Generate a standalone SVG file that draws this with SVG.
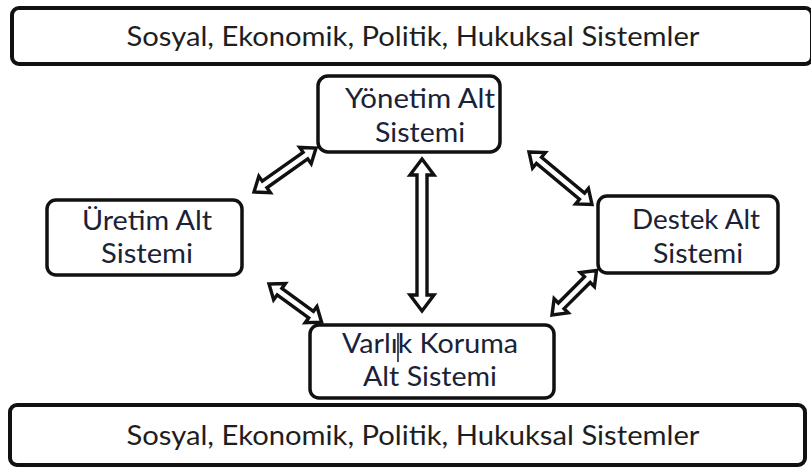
<svg xmlns="http://www.w3.org/2000/svg" width="811" height="469" viewBox="0 0 811 469">
  <style>
    .bar { fill: #ffffff; stroke: #111111; stroke-width: 4; }
    .box { fill: #ffffff; stroke: #111111; stroke-width: 3.5; }
    .bar-text { font-family: Lato, "Open Sans", "Liberation Sans", sans-serif; font-size: 27px; fill: #1e1e1e; text-anchor: middle; }
    .node-text { font-family: Lato, "Open Sans", "Liberation Sans", sans-serif; font-size: 27px; fill: #1a2238; text-anchor: middle; }
    .arrow { fill: #ffffff; stroke: #111111; stroke-width: 3.4; stroke-linejoin: miter; }
    .caret { stroke: #1a2238; stroke-width: 1.6; }
  </style>

  <rect width="811" height="469" fill="#ffffff"/>

  <!-- Surrounding systems, top -->
  <g id="bar-top">
    <rect class="bar" x="12" y="8" width="800" height="56" rx="7"/>
    <text class="bar-text" x="413" y="46" textLength="573" lengthAdjust="spacingAndGlyphs">Sosyal, Ekonomik, Politik, Hukuksal Sistemler</text>
  </g>

  <!-- Surrounding systems, bottom -->
  <g id="bar-bottom">
    <rect class="bar" x="10" y="405" width="795" height="60" rx="7"/>
    <text class="bar-text" x="413" y="445" textLength="573" lengthAdjust="spacingAndGlyphs">Sosyal, Ekonomik, Politik, Hukuksal Sistemler</text>
  </g>

  <!-- Management subsystem -->
  <g id="node-yonetim">
    <rect class="box" x="318" y="76" width="182" height="76" rx="10"/>
    <text class="node-text" x="420" y="108" textLength="150" lengthAdjust="spacingAndGlyphs">Yönetim Alt</text>
    <text class="node-text" x="420" y="142" textLength="90" lengthAdjust="spacingAndGlyphs">Sistemi</text>
  </g>

  <!-- Production subsystem -->
  <g id="node-uretim">
    <rect class="box" x="47" y="200" width="195" height="75" rx="9"/>
    <text class="node-text" x="147" y="230" textLength="130" lengthAdjust="spacingAndGlyphs">Üretim Alt</text>
    <text class="node-text" x="147" y="263" textLength="92" lengthAdjust="spacingAndGlyphs">Sistemi</text>
  </g>

  <!-- Support subsystem -->
  <g id="node-destek">
    <rect class="box" x="598" y="196" width="180" height="77" rx="9"/>
    <text class="node-text" x="696" y="229" textLength="128" lengthAdjust="spacingAndGlyphs">Destek Alt</text>
    <text class="node-text" x="698" y="263" textLength="90" lengthAdjust="spacingAndGlyphs">Sistemi</text>
  </g>

  <!-- Asset protection subsystem -->
  <g id="node-varlik">
    <rect class="box" x="310" y="325" width="244" height="73" rx="9"/>
    <text class="node-text" x="430" y="353" textLength="176" lengthAdjust="spacingAndGlyphs">Varlık Koruma</text>
    <text class="node-text" x="430" y="386" textLength="134" lengthAdjust="spacingAndGlyphs">Alt Sistemi</text>
    <line class="caret" x1="398" y1="333" x2="398" y2="362"/>
  </g>

  <!-- Two-way block arrows between subsystems -->
  <g id="connectors">
    <!-- Üretim to Yönetim -->
    <path class="arrow" transform="translate(254,192) rotate(-35.3)" d="M0,0 L13,-10 L13,-4 L63,-4 L63,-10 L76,0 L63,10 L63,4 L13,4 L13,10 Z"/>
    <!-- Yönetim to Destek -->
    <path class="arrow" transform="translate(529,152) rotate(39.8)" d="M0,0 L13,-10 L13,-4 L69,-4 L69,-10 L82,0 L69,10 L69,4 L13,4 L13,10 Z"/>
    <!-- Yönetim to Varlık Koruma -->
    <path class="arrow" transform="translate(422,159) rotate(90)" d="M0,0 L16,-12 L16,-5 L136,-5 L136,-12 L152,0 L136,12 L136,5 L16,5 L16,12 Z"/>
    <!-- Üretim to Varlık Koruma -->
    <path class="arrow" transform="translate(269,284) rotate(36)" d="M0,0 L13,-10 L13,-4 L52,-4 L52,-10 L65,0 L52,10 L52,4 L13,4 L13,10 Z"/>
    <!-- Destek to Varlık Koruma -->
    <path class="arrow" transform="translate(552,315) rotate(-45)" d="M0,0 L13,-10 L13,-4 L50,-4 L50,-10 L63,0 L50,10 L50,4 L13,4 L13,10 Z"/>
  </g>
</svg>
